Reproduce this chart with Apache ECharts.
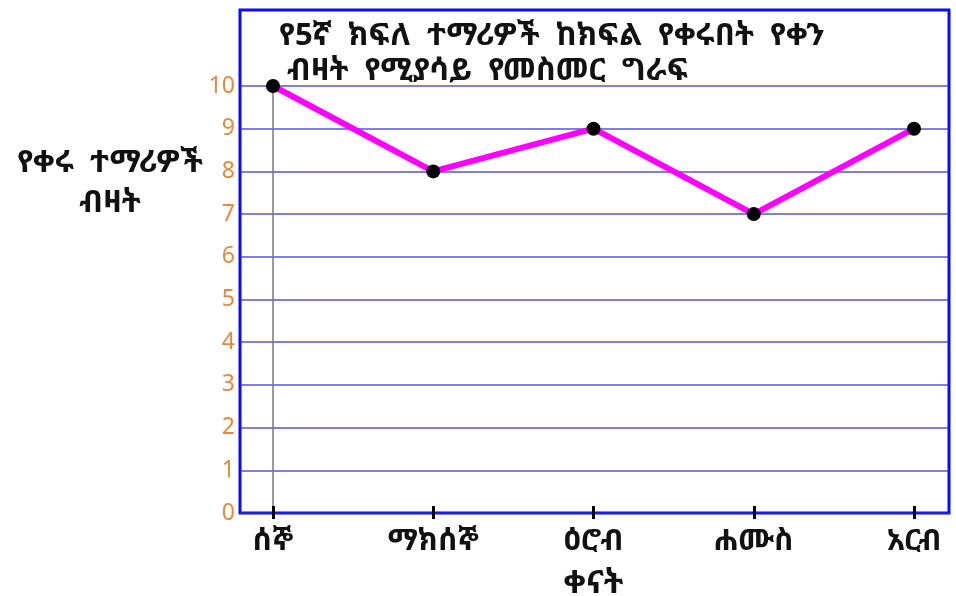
<!DOCTYPE html>
<html>
<head>
<meta charset="utf-8">
<script src="https://cdn.jsdelivr.net/npm/echarts@6/dist/echarts.min.js"></script>
<style>html,body{margin:0;padding:0;background:#fff}#c{width:956px;height:596px}</style>
</head>
<body>
<div id="c"></div>
<script>
var days = ['ሰኞ', 'ማክሰኞ', 'ዕሮብ', 'ሐሙስ', 'አርብ'];
var absentStudents = [10, 8, 9, 7, 9];
var chartTitle = 'የ5ኛ  ክፍለ  ተማሪዎች  ከክፍል  የቀሩበት  የቀን\n ብዛት  የሚያሳይ  የመስመር  ግራፍ';
var yName = 'የቀሩ  ተማሪዎች\nብዛት';
var xName = 'ቀናት';

var FONT = "'Noto Sans Ethiopic','Abyssinica SIL','FreeSerif','Noto Sans',sans-serif";
var chart = echarts.init(document.getElementById('c'));
chart.setOption({
  backgroundColor: '#ffffff',
  animation: false,
  title: [
    { text: chartTitle, left: 274, top: 14,
      textStyle: { fontFamily: FONT, fontSize: 31, fontWeight: 'bold', color: '#111', lineHeight: 35 } },
    { text: yName, left: 105, top: 138, textAlign: 'center',
      textStyle: { fontFamily: FONT, fontSize: 31, fontWeight: 'bold', color: '#111', lineHeight: 40, align: 'center' } }
  ],
  grid: [
    { left: 273, right: 42, top: 86, bottom: 83, outerBoundsMode: 'none', containLabel: false },
    { left: 240, right: 7, top: 86, bottom: 83, outerBoundsMode: 'none', containLabel: false },
    { left: 240, right: 7, top: 10, bottom: 83, outerBoundsMode: 'none', containLabel: false,
      show: true, borderColor: '#0a0aff', borderWidth: 3, backgroundColor: 'transparent' }
  ],
  xAxis: [
    { gridIndex: 0, type: 'category', data: days, boundaryGap: false, offset: -7,
      axisLine: { show: false },
      axisTick: { show: true, alignWithLabel: true, length: 13, lineStyle: { color: '#000', width: 3 } },
      axisLabel: { margin: 20, fontFamily: FONT, fontSize: 30, color: '#111', fontWeight: 'bold' },
      name: xName, nameLocation: 'middle', nameGap: 62,
      nameTextStyle: { fontFamily: FONT, fontSize: 32, color: '#111', fontWeight: 'bold' },
      splitLine: { show: false } },
    { gridIndex: 1, type: 'value', show: false },
    { gridIndex: 2, type: 'value', show: false }
  ],
  yAxis: [
    { gridIndex: 0, type: 'value', min: 0, max: 10, interval: 1,
      axisLine: { show: true, lineStyle: { color: '#777', width: 1.5 } },
      axisTick: { show: false },
      axisLabel: { margin: 38, fontFamily: "'Noto Sans',sans-serif", fontSize: 23, color: '#e8883a' },
      splitLine: { show: false } },
    { gridIndex: 1, type: 'value', min: 0, max: 10, interval: 1,
      axisLine: { show: false }, axisTick: { show: false }, axisLabel: { show: false },
      splitLine: { show: true, lineStyle: { color: 'rgba(40,40,215,0.6)', width: 2 } } },
    { gridIndex: 2, type: 'value', show: false }
  ],
  series: [
    { type: 'line', xAxisIndex: 0, yAxisIndex: 0, data: absentStudents,
      lineStyle: { color: '#ff00ff', width: 6 },
      itemStyle: { color: '#000' },
      symbol: 'circle', symbolSize: 14, z: 5 }
  ]
});
</script>
</body>
</html>
